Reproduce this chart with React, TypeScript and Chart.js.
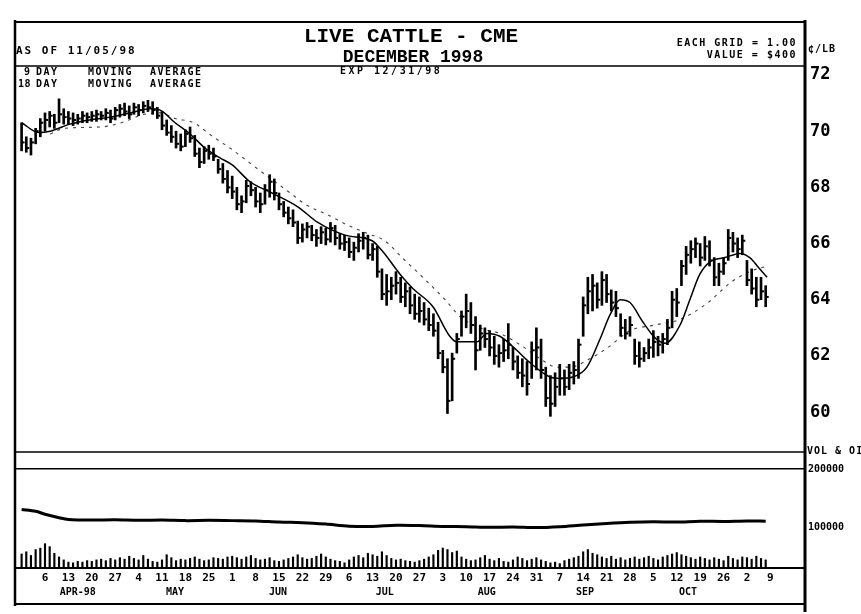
import React, { useEffect, useRef } from "react";
import { Chart, registerables } from "chart.js";

Chart.register(...registerables);

// ---- daily price bars (Mar 30 1998 .. early Nov 1998), cents/lb ----
const highs = [
  70.30, 69.80, 69.75, 70.10, 70.45, 70.65, 70.70, 70.60, 71.15, 70.80,
  70.70, 70.65, 70.60, 70.70, 70.65, 70.70, 70.75, 70.70, 70.80, 70.75,
  70.85, 70.95, 71.00, 70.90, 71.00, 70.95, 71.05, 71.10, 71.05, 70.85,
  70.70, 70.40, 70.20, 70.00, 69.90, 70.05, 70.15, 69.85, 69.40, 69.45,
  69.50, 69.40, 69.00, 68.85, 68.60, 68.40, 68.00, 67.70, 68.25, 68.20,
  68.00, 67.80, 68.10, 68.45, 68.30, 67.80, 67.50, 67.30, 67.20, 66.80,
  66.70, 66.75, 66.65, 66.50, 66.60, 66.55, 66.75, 66.65, 66.35, 66.30,
  66.20, 66.05, 66.35, 66.40, 66.30, 66.00, 65.90, 65.10, 64.90, 64.80,
  65.00, 64.80, 64.60, 64.45, 64.20, 64.10, 63.90, 63.70, 63.50, 63.20,
  62.20, 61.90, 62.10, 62.80, 63.60, 64.20, 63.90, 63.40, 63.10, 63.00,
  62.90, 62.70, 62.40, 62.60, 63.15, 62.30, 62.00, 61.90, 61.80, 62.50,
  63.00, 62.60, 61.60, 61.30, 61.40, 61.70, 61.50, 61.70, 61.80, 62.60,
  64.10, 64.80, 64.90, 64.60, 65.00, 64.90, 64.35, 64.30, 63.50, 63.30,
  63.40, 62.60, 62.50, 62.30, 62.60, 62.90, 62.70, 62.80, 63.30, 64.30,
  64.40, 65.40, 65.90, 66.10, 66.20, 66.00, 66.25, 66.10, 65.50, 65.30,
  65.50, 66.50, 66.40, 66.20, 66.30, 65.40, 65.10, 64.80, 64.80, 64.50,
];
const lows = [
  69.30, 69.25, 69.15, 69.55, 69.80, 70.00, 70.15, 70.10, 70.30, 70.25,
  70.25, 70.20, 70.25, 70.30, 70.30, 70.35, 70.35, 70.40, 70.40, 70.30,
  70.40, 70.50, 70.55, 70.45, 70.60, 70.55, 70.65, 70.70, 70.60, 70.45,
  70.05, 69.85, 69.60, 69.40, 69.30, 69.45, 69.60, 69.10, 68.70, 68.85,
  69.00, 68.95, 68.50, 68.15, 67.80, 67.60, 67.20, 67.10, 67.45, 67.70,
  67.30, 67.10, 67.40, 67.65, 67.55, 67.20, 66.95, 66.70, 66.60, 66.00,
  66.05, 66.20, 66.10, 65.90, 66.00, 65.95, 66.05, 65.95, 65.80, 65.75,
  65.50, 65.40, 65.70, 65.80, 65.45, 65.40, 64.80, 64.00, 63.80, 64.00,
  64.20, 63.90, 63.75, 63.50, 63.30, 63.20, 63.10, 62.90, 62.70, 61.90,
  61.40, 59.95, 60.40, 62.10, 62.70, 63.00, 62.80, 61.50, 62.20, 62.30,
  62.00, 61.70, 61.60, 61.80, 61.90, 61.50, 61.20, 60.90, 60.60, 61.20,
  61.50, 61.20, 60.20, 59.85, 60.20, 60.60, 60.60, 60.80, 61.00, 61.20,
  62.70, 63.50, 63.60, 63.70, 63.80, 63.90, 63.60, 63.40, 62.70, 62.60,
  62.70, 61.70, 61.60, 61.80, 61.90, 61.95, 62.00, 62.10, 62.40, 63.00,
  63.40, 64.50, 64.90, 65.30, 65.50, 65.20, 65.40, 65.20, 64.50, 64.50,
  64.90, 65.40, 65.70, 65.50, 65.60, 64.50, 64.20, 63.75, 64.00, 63.75,
];
const closes = [
  69.60, 69.40, 69.60, 70.00, 70.30, 70.40, 70.55, 70.30, 70.60, 70.50,
  70.45, 70.40, 70.45, 70.55, 70.50, 70.55, 70.60, 70.55, 70.65, 70.45,
  70.75, 70.80, 70.70, 70.60, 70.85, 70.75, 70.90, 70.85, 70.75, 70.55,
  70.20, 69.95, 69.80, 69.55, 69.45, 69.90, 69.75, 69.20, 68.90, 69.30,
  69.20, 69.10, 68.65, 68.30, 68.00, 67.85, 67.40, 67.50, 68.05, 67.90,
  67.50, 67.40, 67.90, 68.20, 67.80, 67.40, 67.10, 66.90, 66.75, 66.20,
  66.50, 66.60, 66.30, 66.20, 66.40, 66.15, 66.55, 66.20, 66.00, 66.05,
  65.70, 65.85, 66.10, 66.20, 65.60, 65.80, 65.00, 64.20, 64.30, 64.50,
  64.60, 64.10, 64.30, 63.80, 63.50, 63.60, 63.30, 63.10, 62.90, 62.10,
  61.60, 60.40, 61.90, 62.60, 63.40, 63.60, 63.10, 62.20, 62.80, 62.60,
  62.30, 62.00, 62.10, 62.20, 62.40, 61.80, 61.40, 61.30, 61.00, 62.20,
  62.30, 61.50, 60.50, 60.30, 60.90, 61.20, 60.90, 61.40, 61.50, 62.40,
  63.80, 64.30, 64.50, 64.00, 64.70, 64.20, 63.90, 63.70, 63.00, 62.80,
  63.10, 62.00, 61.90, 62.10, 62.30, 62.50, 62.40, 62.60, 63.00, 64.00,
  63.90, 65.20, 65.60, 65.80, 66.00, 65.50, 65.90, 65.40, 64.80, 65.00,
  65.30, 66.20, 66.00, 65.80, 66.10, 64.70, 64.40, 64.00, 64.30, 64.10,
];
const volumes = [
  19000, 22000, 17000, 25000, 27000, 33000, 29000, 20000, 15000, 11000,
  8000, 7000, 9000, 8000, 10000, 9000, 11000, 12000, 10000, 13000,
  11000, 14000, 12000, 16000, 13000, 11000, 17000, 12000, 9000, 8000,
  11000, 18000, 14000, 10000, 12000, 11000, 13000, 15000, 12000, 10000,
  11000, 14000, 13000, 12000, 15000, 16000, 14000, 12000, 15000, 17000,
  13000, 11000, 12000, 14000, 10000, 9000, 11000, 13000, 15000, 18000,
  14000, 12000, 13000, 16000, 19000, 15000, 12000, 10000, 9000, 7000,
  11000, 15000, 17000, 14000, 20000, 18000, 16000, 22000, 17000, 13000,
  11000, 12000, 10000, 9000, 8000, 10000, 12000, 15000, 18000, 24000,
  27000, 25000, 21000, 23000, 15000, 12000, 10000, 11000, 14000, 17000,
  12000, 10000, 13000, 9000, 8000, 11000, 15000, 13000, 10000, 12000,
  14000, 11000, 9000, 7000, 8000, 6000, 10000, 12000, 14000, 16000,
  22000, 25000, 20000, 18000, 15000, 13000, 16000, 12000, 14000, 11000,
  13000, 15000, 12000, 14000, 16000, 13000, 11000, 15000, 17000, 19000,
  21000, 18000, 16000, 14000, 12000, 15000, 13000, 11000, 14000, 12000,
  10000, 16000, 13000, 11000, 15000, 14000, 12000, 16000, 13000, 11000,
];

// ---- moving averages (trading-day position, value) ----
const shortMaDays = [
  0, 3.7, 6.1, 10.3, 14.6, 18.9, 23.2, 27.4, 29.6, 32.8, 36.0, 39.2, 42.4,
  45.0, 48.8, 53.5, 59.1, 63.3, 69.1, 74.9, 77.0, 80.9, 83.6, 87.9, 91.5,
  93.0, 97.3, 99.4, 102.2, 105.8, 108.0, 112.9, 115.0, 117.8, 120.8, 123.6,
  125.7, 127.9, 130.0, 132.8, 135.3, 137.5, 140.7, 142.8, 144.9, 147.1,
  150.3, 153.5, 155.6, 157.7, 159.3,
];
const shortMaValues = [
  70.3, 69.95, 70.0, 70.25, 70.4, 70.5, 70.65, 70.8, 70.75, 70.3, 69.9, 69.4,
  69.05, 68.8, 68.2, 67.8, 67.3, 66.75, 66.3, 66.1, 65.75, 64.9, 64.4, 63.75,
  62.7, 62.5, 62.5, 62.8, 62.7, 62.2, 61.85, 61.25, 61.2, 61.25, 61.6, 62.6,
  63.45, 64.0, 63.9, 63.2, 62.65, 62.45, 63.1, 64.0, 64.9, 65.35, 65.5,
  65.65, 65.5, 65.1, 64.8,
];
const longMaDays = [
  6.1, 9.1, 17.0, 21.3, 26.2, 29.6, 32.8, 36.8, 40.5, 44.5, 50.9, 57.4, 60.6,
  66.3, 69.1, 74.0, 77.6, 81.3, 85.1, 90.5, 93.7, 97.9, 102.2, 106.5, 110.8,
  114.4, 117.2, 121.4, 125.3, 130.0, 135.3, 140.7, 146.7, 151.4, 155.6, 159.3,
];
const longMaValues = [
  69.9, 70.1, 70.15, 70.3, 70.6, 70.65, 70.45, 70.3, 69.85, 69.4, 68.6, 67.8,
  67.4, 66.95, 66.7, 66.35, 66.1, 65.5, 64.9, 64.0, 63.4, 63.0, 62.8, 62.4,
  61.9, 61.6, 61.6, 61.9, 62.3, 62.9, 63.1, 63.3, 63.9, 64.6, 65.0, 65.2,
];

// ---- open interest ----
const oiDays = [
  0, 3, 5, 8, 10, 15, 20, 25, 30, 35, 40, 45, 50, 55, 60, 65, 70, 75, 80, 85,
  90, 95, 100, 105, 110, 115, 120, 125, 130, 135, 140, 145, 150, 155, 159,
];
const oiValues = [
  130000, 127000, 122000, 116000, 113000, 112000, 112500, 111500, 112000,
  111000, 111500, 111000, 110500, 108500, 107500, 105000, 101500, 101000,
  103000, 102500, 101000, 100500, 99500, 100000, 99000, 100500, 103500,
  106000, 108000, 109000, 108500, 110000, 109500, 110500, 110000,
];

// ---- axis labels ----
const weekLabels = [
  "6", "13", "20", "27", "4", "11", "18", "25", "1", "8", "15", "22", "29",
  "6", "13", "20", "27", "3", "10", "17", "24", "31", "7", "14", "21", "28",
  "5", "12", "19", "26", "2", "9",
];
const monthLabels = ["APR-98", "MAY", "JUN", "JUL", "AUG", "SEP", "OCT"];
const monthDays = [12.0, 32.8, 54.8, 77.6, 99.4, 120.4, 142.4];
const priceTicks = [60, 62, 64, 66, 68, 70, 72];
const oiTicks = [100000, 200000];

const MONO = "'DejaVu Sans Mono', monospace";
const COURIER = "'Liberation Mono', monospace";

const framePlugin = {
  id: "frame",
  afterDraw(chart: any) {
    const { ctx, chartArea: a, scales } = chart;
    ctx.save();
    ctx.strokeStyle = "#000";
    const line = (x1: number, y1: number, x2: number, y2: number, w: number) => {
      ctx.lineWidth = w;
      ctx.beginPath();
      ctx.moveTo(x1, y1);
      ctx.lineTo(x2, y2);
      ctx.stroke();
    };
    line(a.left - 1, 22, a.right, 22, 2);
    line(a.left, 20, a.left, 606, 2.5);
    line(a.left, a.top, a.right, a.top, 1.5);
    line(a.left, scales.y.bottom, a.right, scales.y.bottom, 1.5);
    line(a.left, a.bottom, a.right, a.bottom, 2);
    line(a.left, 604, a.right, 604, 2);
    line(a.right, 20, a.right, 612, 3);
    ctx.restore();
  },
};

function ChartCanvas() {
  const ref = useRef<HTMLCanvasElement | null>(null);
  useEffect(() => {
    if (!ref.current) return;
    const days = highs.map((_, i) => i);
    const weekDays = weekLabels.map((_, i) => 5 * (i + 1));
    const xMin = -1.41;
    const xMax = 167.4;
    const chart = new Chart(ref.current, {
      type: "bar",
      data: {
        datasets: [
          {
            type: "bar",
            data: days.map((i) => ({ x: i, y: [lows[i], highs[i]] })) as any,
            backgroundColor: "#000",
            barThickness: 2,
            grouped: false,
            yAxisID: "y",
          } as any,
          {
            type: "line",
            data: days.map((i) => ({ x: i, y: closes[i] })),
            showLine: false,
            pointStyle: "dash",
            pointRadius: 3,
            pointBorderWidth: 2,
            pointBorderColor: "#000",
            yAxisID: "y",
          } as any,
          {
            type: "line",
            data: shortMaDays.map((d, i) => ({ x: d, y: shortMaValues[i] })),
            borderColor: "#000",
            borderWidth: 1.5,
            pointRadius: 0,
            cubicInterpolationMode: "monotone",
            yAxisID: "y",
          } as any,
          {
            type: "line",
            data: longMaDays.map((d, i) => ({ x: d, y: longMaValues[i] })),
            borderColor: "#444",
            borderWidth: 1.1,
            borderDash: [3, 5],
            pointRadius: 0,
            cubicInterpolationMode: "monotone",
            yAxisID: "y",
          } as any,
          {
            type: "line",
            data: oiDays.map((d, i) => ({ x: d, y: oiValues[i] })),
            borderColor: "#000",
            borderWidth: 3,
            pointRadius: 0,
            tension: 0.3,
            yAxisID: "yOI",
          } as any,
          {
            type: "bar",
            data: days.map((i) => ({ x: i, y: volumes[i] })),
            backgroundColor: "#000",
            barThickness: 1.5,
            grouped: false,
            yAxisID: "yVol",
          } as any,
        ],
      },
      options: {
        responsive: false,
        devicePixelRatio: 1,
        animation: false,
        events: [],
        layout: { padding: { left: 15, top: 66, right: 0, bottom: 14 } },
        plugins: { legend: { display: false }, tooltip: { enabled: false } },
        scales: {
          x: {
            type: "linear",
            position: "bottom",
            weight: 0,
            min: xMin,
            max: xMax,
            bounds: "data",
            offset: false,
            grid: { display: false, drawTicks: false },
            border: { display: false },
            afterBuildTicks: (s: any) => {
              s.ticks = weekDays.map((v) => ({ value: v }));
            },
            afterFit: (s: any) => {
              s.height = 17;
            },
            ticks: {
              autoSkip: false,
              maxRotation: 0,
              padding: 4,
              color: "#000",
              font: { family: MONO, weight: "bold", size: 11 },
              callback: (_v: any, i: number) => weekLabels[i],
            },
          },
          x2: {
            type: "linear",
            position: "bottom",
            weight: 1,
            min: xMin,
            max: xMax,
            bounds: "data",
            offset: false,
            grid: { display: false, drawTicks: false },
            border: { display: false },
            afterBuildTicks: (s: any) => {
              s.ticks = monthDays.map((v) => ({ value: v }));
            },
            afterFit: (s: any) => {
              s.height = 15;
            },
            ticks: {
              autoSkip: false,
              maxRotation: 0,
              padding: 1,
              color: "#000",
              font: { family: MONO, weight: "bold", size: 10 },
              callback: (_v: any, i: number) => monthLabels[i],
            },
          },
          y: {
            type: "linear",
            position: "right",
            stack: "right",
            stackWeight: 386,
            weight: 0,
            min: 58.58,
            max: 72.32,
            bounds: "data",
            grid: { display: false, drawTicks: false },
            border: { display: false },
            afterBuildTicks: (s: any) => {
              s.ticks = priceTicks.map((v) => ({ value: v }));
            },
            afterFit: (s: any) => {
              s.width = 56;
            },
            ticks: {
              padding: 5,
              color: "#000",
              font: { family: MONO, weight: "bold", size: 17 },
            },
          },
          yOI: {
            type: "linear",
            position: "right",
            stack: "right",
            stackWeight: 88,
            weight: 1,
            min: 77600,
            max: 229300,
            bounds: "data",
            grid: {
              display: true,
              drawTicks: false,
              lineWidth: 1.5,
              color: (c: any) =>
                c.tick && c.tick.value === 200000 ? "#000" : "rgba(0,0,0,0)",
            },
            border: { display: false },
            afterBuildTicks: (s: any) => {
              s.ticks = oiTicks.map((v) => ({ value: v }));
            },
            afterFit: (s: any) => {
              s.width = 56;
            },
            ticks: {
              padding: 3,
              color: "#000",
              font: { family: MONO, weight: "bold", size: 10 },
              callback: (v: any) => String(v),
            },
          },
          yVol: {
            type: "linear",
            position: "right",
            stack: "right",
            stackWeight: 28,
            weight: 2,
            min: 0,
            max: 38000,
            bounds: "data",
            grid: { display: false, drawTicks: false },
            border: { display: false },
            afterFit: (s: any) => {
              s.width = 56;
            },
            ticks: { display: false },
          },
        },
      } as any,
      plugins: [framePlugin],
    });
    return () => chart.destroy();
  }, []);
  return (
    <canvas
      ref={ref}
      width={861}
      height={614}
      style={{ display: "block", position: "absolute", left: 0, top: 0 }}
    />
  );
}

const txt = (extra: React.CSSProperties): React.CSSProperties => ({
  position: "absolute",
  whiteSpace: "pre",
  lineHeight: 1,
  color: "#000",
  fontWeight: "bold",
  fontFamily: MONO,
  ...extra,
});

export default function App() {
  return (
    <div
      style={{
        position: "absolute",
        left: 0,
        top: 0,
        width: 861,
        height: 614,
        overflow: "hidden",
        background: "#fff",
      }}
    >
      <ChartCanvas />
      <div style={txt({ left: 411, top: 26, fontFamily: COURIER, fontSize: 21, transform: "translateX(-50%)" })}>
        LIVE CATTLE - CME
      </div>
      <div style={txt({ left: 413, top: 48, fontFamily: COURIER, fontSize: 18, transform: "translateX(-50%)" })}>
        DECEMBER 1998
      </div>
      <div style={txt({ left: 16, top: 45, fontSize: 11, letterSpacing: 2 })}>AS OF 11/05/98</div>
      <div style={txt({ left: 340, top: 66, fontSize: 10, letterSpacing: 2.5 })}>EXP 12/31/98</div>
      <div style={txt({ right: 64, top: 38, fontSize: 10, letterSpacing: 1.5 })}>EACH GRID = 1.00</div>
      <div style={txt({ right: 64, top: 50, fontSize: 10, letterSpacing: 1.5 })}>VALUE = $400</div>
      <div style={txt({ left: 808, top: 44, fontSize: 10, letterSpacing: 1 })}>¢/LB</div>
      <div style={txt({ left: 807, top: 446, fontSize: 10, letterSpacing: 1 })}>VOL &amp; OI</div>
      <div style={txt({ left: 24, top: 67, fontSize: 10, letterSpacing: 1.5 })}>9</div>
      <div style={txt({ left: 36, top: 67, fontSize: 10, letterSpacing: 1.5 })}>DAY</div>
      <div style={txt({ left: 88, top: 67, fontSize: 10, letterSpacing: 1.5 })}>MOVING</div>
      <div style={txt({ left: 150, top: 67, fontSize: 10, letterSpacing: 1.5 })}>AVERAGE</div>
      <div style={txt({ left: 18, top: 79, fontSize: 10, letterSpacing: 0.5 })}>18</div>
      <div style={txt({ left: 36, top: 79, fontSize: 10, letterSpacing: 1.5 })}>DAY</div>
      <div style={txt({ left: 88, top: 79, fontSize: 10, letterSpacing: 1.5 })}>MOVING</div>
      <div style={txt({ left: 150, top: 79, fontSize: 10, letterSpacing: 1.5 })}>AVERAGE</div>
    </div>
  );
}
